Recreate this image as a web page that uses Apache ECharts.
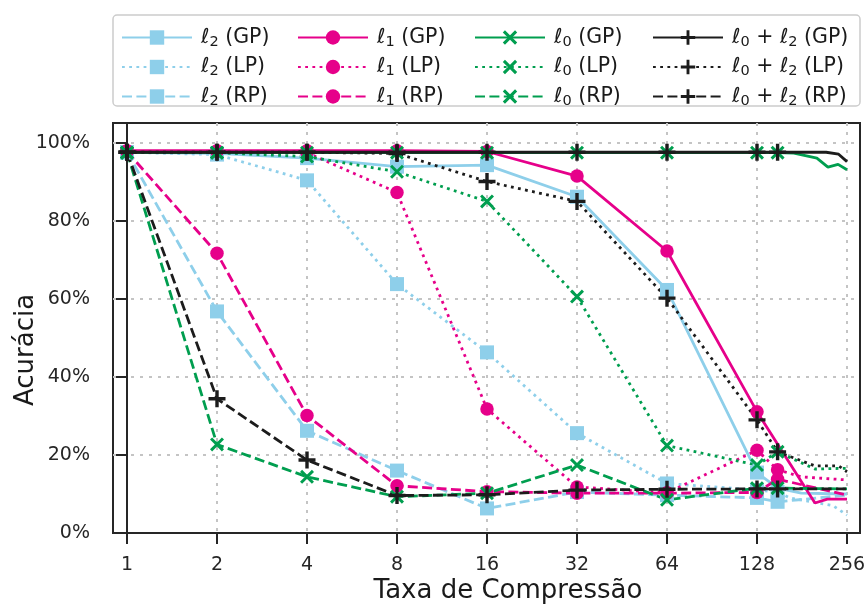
<!DOCTYPE html>
<html>
<head>
<meta charset="utf-8">
<script src="https://cdn.jsdelivr.net/npm/echarts@6/dist/echarts.min.js"></script>
<style>
  html, body { margin: 0; padding: 0; background: #fff; }
  #chart { width: 867px; height: 604px; }
</style>
</head>
<body>
<div id="chart"></div>
<script>
// Compression ratios shown on the x axis
const xTicks = [1, 2, 4, 8, 16, 32, 64, 128, 256];
const yTicks = [0, 20, 40, 60, 80, 100];

// ℓ2 regularisation
const l2GP_x = [1, 2, 4, 8, 16, 32, 64, 128, 150, 180, 256];
const l2GP_y = [97.6, 97.3, 96.1, 93.9, 94.3, 86.2, 62.3, 15.5, 11.5, 10.2, 10.0];
const l2LP_x = [1, 2, 4, 8, 16, 32, 64, 128, 150, 165, 230, 256];
const l2LP_y = [97.6, 97.0, 90.4, 63.8, 46.3, 25.6, 12.7, 11.0, 10.5, 9.0, 7.0, 4.6];
const l2RP_x = [1, 2, 4, 8, 16, 32, 64, 128, 150, 256];
const l2RP_y = [97.6, 56.8, 26.2, 16.0, 6.3, 10.5, 9.7, 9.0, 8.0, 9.7];

// ℓ1 regularisation
const l1GP_x = [1, 2, 4, 8, 16, 32, 64, 128, 200, 220, 256];
const l1GP_y = [98.0, 98.0, 98.0, 98.0, 97.8, 91.5, 72.3, 31.1, 7.7, 8.7, 8.7];
const l1LP_x = [1, 2, 4, 8, 16, 32, 64, 128, 150, 180, 256];
const l1LP_y = [97.8, 97.8, 97.5, 87.3, 31.8, 11.8, 10.3, 21.2, 16.2, 14.4, 13.6];
const l1RP_x = [1, 2, 4, 8, 16, 32, 64, 128, 150, 256];
const l1RP_y = [97.8, 71.7, 30.1, 12.1, 10.6, 10.2, 10.2, 10.4, 13.8, 9.7];

// ℓ0 regularisation
const l0GP_x = [1, 2, 4, 8, 16, 32, 64, 128, 150, 170, 203, 221, 239, 256];
const l0GP_y = [97.5, 97.5, 97.5, 97.5, 97.5, 97.5, 97.5, 97.5, 97.5, 97.4, 96.1, 93.8, 94.5, 93.1];
const l0LP_x = [1, 2, 4, 8, 16, 32, 64, 128, 150, 200, 256];
const l0LP_y = [97.5, 97.5, 96.5, 92.6, 85.0, 60.6, 22.4, 17.4, 20.8, 16.4, 16.6];
const l0RP_x = [1, 2, 4, 8, 16, 32, 64, 128, 150, 256];
const l0RP_y = [97.5, 22.7, 14.4, 9.3, 10.2, 17.4, 8.5, 11.5, 11.5, 11.3];

// ℓ0 + ℓ2 regularisation
const l02GP_x = [1, 2, 4, 8, 16, 32, 64, 128, 150, 218, 240, 256];
const l02GP_y = [97.6, 97.6, 97.6, 97.6, 97.6, 97.6, 97.6, 97.6, 97.6, 97.6, 97.1, 95.2];
const l02LP_x = [1, 2, 4, 8, 16, 32, 64, 128, 150, 200, 240, 256];
const l02LP_y = [97.6, 97.6, 97.6, 97.3, 90.1, 85.0, 60.2, 29.0, 20.8, 17.2, 17.2, 15.7];
const l02RP_x = [1, 2, 4, 8, 16, 32, 64, 128, 150, 256];
const l02RP_y = [97.6, 34.4, 18.7, 9.6, 9.8, 11.0, 11.2, 11.3, 11.3, 11.3];

const BLUE = '#8ecfea', MAGENTA = '#e6008a', GREEN = '#009e4f', BLACK = '#1c1c1c';
const DOTTED = [2.8, 4.4], DASHED = [10, 4.4];
const SYM_X = 'path://M0,1.5L1.5,0L10,8.5L8.5,10ZM8.5,0L10,1.5L1.5,10L0,8.5Z';
const SYM_PLUS = 'path://M4,0H6V4H10V6H6V10H4V6H0V4H4Z';

function line(name, xs, ys, lastMarked, color, type, symbol, size) {
  const data = xs.map((x, i) => {
    const v = [Math.log2(x), ys[i]];
    return x <= lastMarked ? v : { value: v, symbol: 'none' };
  });
  return {
    name, type: 'line', data,
    symbol, symbolSize: size, showSymbol: true, showAllSymbol: true,
    lineStyle: { color, width: 2.8, type },
    itemStyle: { color },
    emphasis: { disabled: true }
  };
}

const series = [
  line('ℓ2 (GP)', l2GP_x, l2GP_y, 128, BLUE, 'solid', 'rect', 14),
  line('ℓ2 (LP)', l2LP_x, l2LP_y, 150, BLUE, DOTTED, 'rect', 14),
  line('ℓ2 (RP)', l2RP_x, l2RP_y, 150, BLUE, DASHED, 'rect', 14),
  line('ℓ1 (GP)', l1GP_x, l1GP_y, 128, MAGENTA, 'solid', 'circle', 13.5),
  line('ℓ1 (LP)', l1LP_x, l1LP_y, 150, MAGENTA, DOTTED, 'circle', 13.5),
  line('ℓ1 (RP)', l1RP_x, l1RP_y, 150, MAGENTA, DASHED, 'circle', 13.5),
  line('ℓ0 (GP)', l0GP_x, l0GP_y, 150, GREEN, 'solid', SYM_X, 14),
  line('ℓ0 (LP)', l0LP_x, l0LP_y, 150, GREEN, DOTTED, SYM_X, 14),
  line('ℓ0 (RP)', l0RP_x, l0RP_y, 150, GREEN, DASHED, SYM_X, 14),
  line('ℓ0 + ℓ2 (GP)', l02GP_x, l02GP_y, 150, BLACK, 'solid', SYM_PLUS, 17),
  line('ℓ0 + ℓ2 (LP)', l02LP_x, l02LP_y, 150, BLACK, DOTTED, SYM_PLUS, 17),
  line('ℓ0 + ℓ2 (RP)', l02RP_x, l02RP_y, 150, BLACK, DASHED, SYM_PLUS, 17)
];

// one legend column per penalty, rows GP / LP / RP
const legendPrefixes = ['ℓ2', 'ℓ1', 'ℓ0', 'ℓ0 + ℓ2'];
const legendLeft = [121, 297, 474, 652];

function richName(name) {
  return name.split(/(\d)/).map((part, i) =>
    i % 2 ? '{s|' + part + '}' : (part ? '{m|' + part + '}' : '')).join('');
}

const FONT = 'DejaVu Sans';
const INK = '#262626';

const legends = legendPrefixes.map((p, i) => ({
  data: ['GP', 'LP', 'RP'].map(k => p + ' (' + k + ')'),
  orient: 'vertical',
  left: legendLeft[i], top: 25.5,
  padding: 0,
  itemWidth: 70, itemHeight: 18, itemGap: 5.5,
  formatter: richName,
  textStyle: {
    padding: [0, 0, 0, 4],
    rich: {
      m: { fontSize: 20.5, fontFamily: FONT, color: '#1a1a1a', lineHeight: 22 },
      s: { fontSize: 14.5, fontFamily: FONT, color: '#1a1a1a', lineHeight: 13, padding: [9, 0, 0, 0] }
    }
  }
}));

const chart = echarts.init(document.getElementById('chart'), null, { renderer: 'canvas' });
chart.setOption({
  animation: false,
  backgroundColor: '#ffffff',
  graphic: [{
    type: 'rect', z: 0, silent: true,
    shape: { x: 113, y: 15, width: 747, height: 91, r: 4 },
    style: { fill: '#ffffff', stroke: '#cccccc', lineWidth: 1.5 }
  }],
  grid: {
    left: 113, right: 7, top: 123, bottom: 71,
    outerBoundsMode: 'none', containLabel: false,
    show: true, borderColor: INK, borderWidth: 2, backgroundColor: 'transparent'
  },
  legend: legends,
  xAxis: {
    type: 'value',
    min: -0.1556, max: 8.1444,
    name: 'Taxa de Compressão',
    nameLocation: 'middle', nameGap: 45, nameMoveOverlap: false,
    nameTextStyle: { fontSize: 26, fontFamily: FONT, color: '#1a1a1a', padding: [0, 0, 0, 43] },
    axisLine: { show: true, lineStyle: { color: INK, width: 2 } },
    axisTick: { show: true, length: 11, customValues: xTicks.map(Math.log2), lineStyle: { color: INK, width: 2 } },
    axisLabel: {
      customValues: xTicks.map(Math.log2), margin: 23,
      fontSize: 19, fontFamily: FONT, color: INK,
      formatter: v => String(Math.round(Math.pow(2, v)))
    },
    splitLine: { show: true, lineStyle: { color: '#c4c4c4', width: 2, type: [3, 6] } }
  },
  yAxis: {
    type: 'value',
    min: 0, max: 105.1,
    name: 'Acurácia',
    nameLocation: 'middle', nameGap: 74, nameMoveOverlap: false,
    nameTextStyle: { fontSize: 26, fontFamily: FONT, color: '#1a1a1a', padding: [0, 44, 0, 0] },
    axisLine: { show: true, lineStyle: { color: INK, width: 2 } },
    axisTick: { show: true, length: 11, customValues: yTicks, lineStyle: { color: INK, width: 2 } },
    axisLabel: {
      customValues: yTicks, margin: 23,
      fontSize: 19, fontFamily: FONT, color: INK,
      formatter: v => v + '%'
    },
    splitLine: { show: true, lineStyle: { color: '#c4c4c4', width: 2, type: [3, 6] } }
  },
  series
});
</script>
</body>
</html>
